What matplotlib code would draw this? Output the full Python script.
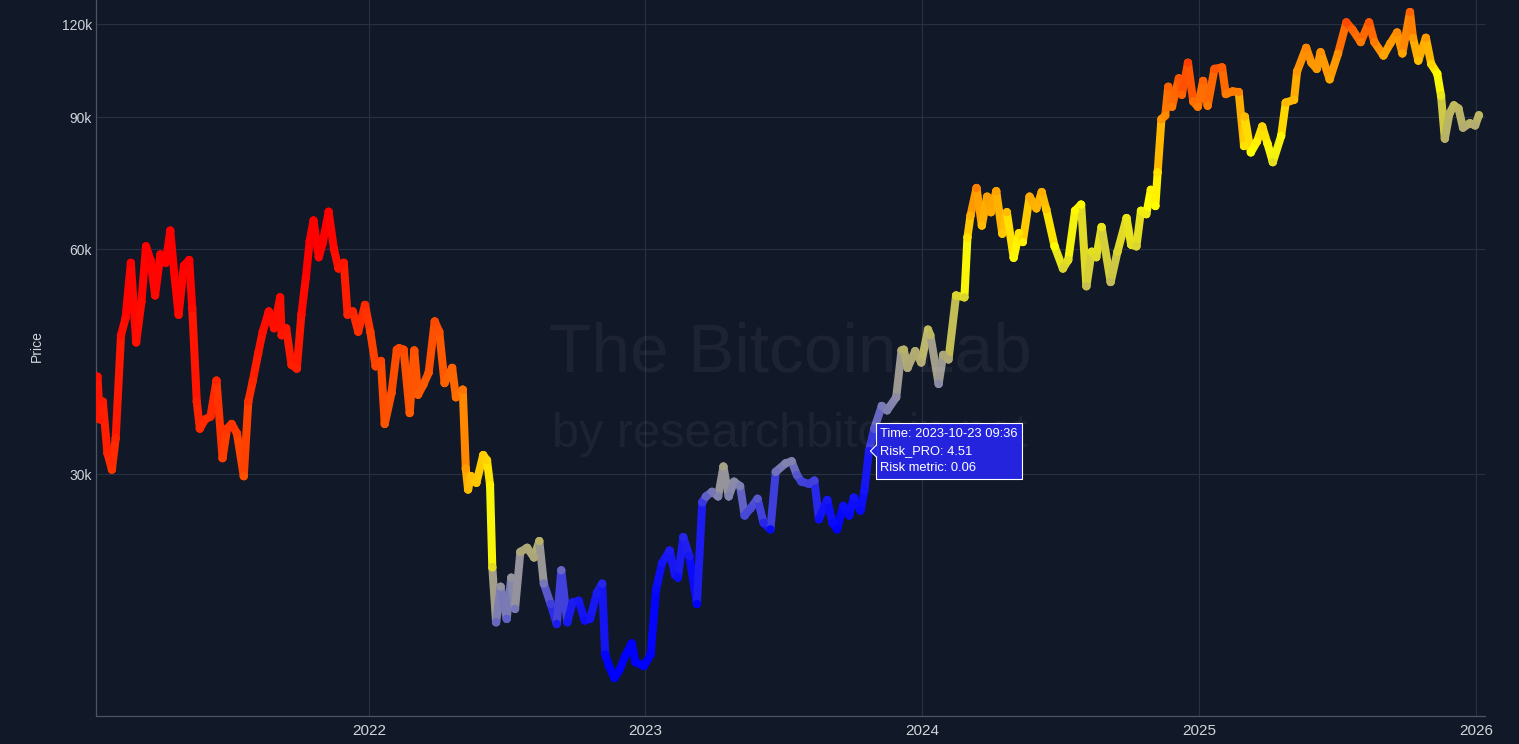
import numpy as np
import pandas as pd
import matplotlib
matplotlib.use("Agg")
import matplotlib.pyplot as plt
import matplotlib.dates as mdates
from matplotlib.collections import LineCollection
from matplotlib.colors import LinearSegmentedColormap
from matplotlib.patches import Polygon, Rectangle
from matplotlib.ticker import FixedLocator, NullLocator
from matplotlib.transforms import IdentityTransform

# price in k USD, risk metric 0..1
dates_21 = ["2021-01-08", "2021-01-11", "2021-01-15", "2021-01-21", "2021-01-27", "2021-02-01", "2021-02-08",
            "2021-02-14", "2021-02-21", "2021-02-28", "2021-03-07", "2021-03-13", "2021-03-19", "2021-03-25",
            "2021-04-01", "2021-04-08", "2021-04-14", "2021-04-19", "2021-04-25", "2021-05-02", "2021-05-09",
            "2021-05-13", "2021-05-19", "2021-05-23", "2021-05-30", "2021-06-06", "2021-06-14", "2021-06-22",
            "2021-06-28", "2021-07-04", "2021-07-11", "2021-07-20", "2021-07-26", "2021-08-01", "2021-08-08",
            "2021-08-14", "2021-08-22", "2021-08-29", "2021-09-06", "2021-09-08", "2021-09-14", "2021-09-21",
            "2021-09-28", "2021-10-04", "2021-10-10", "2021-10-15", "2021-10-20", "2021-10-27", "2021-11-01",
            "2021-11-09", "2021-11-16", "2021-11-22", "2021-11-29", "2021-12-04", "2021-12-11", "2021-12-18",
            "2021-12-27"]
price_21 = [40.5, 35.5, 37.5, 32.0, 30.4, 33.5, 46.0, 48.5, 57.5, 45.0, 51.0, 60.5, 58.0, 52.0, 59.0, 57.5,
            63.5, 56.0, 49.0, 57.0, 58.0, 50.0, 37.5, 34.5, 35.5, 35.8, 40.0, 31.5, 34.5, 35.0, 34.0, 29.8,
            37.5, 40.0, 43.5, 46.5, 49.5, 47.0, 51.7, 46.0, 47.0, 42.0, 41.5, 49.0, 55.0, 61.5, 65.5, 58.5,
            61.0, 67.3, 60.0, 56.5, 57.5, 49.0, 49.5, 46.5, 50.5]
risk_21 = [0.97, 0.95, 0.95, 0.93, 0.91, 0.93, 0.97, 0.98, 1.0, 0.97, 0.98, 1.0, 1.0, 0.98, 1.0, 1.0, 1.0,
           1.0, 0.98, 1.0, 1.0, 0.98, 0.94, 0.92, 0.92, 0.92, 0.93, 0.88, 0.9, 0.9, 0.89, 0.85, 0.9, 0.93,
           0.95, 0.97, 0.98, 0.97, 0.98, 0.96, 0.96, 0.94, 0.94, 0.97, 0.99, 1.0, 1.0, 0.99, 1.0, 1.0, 0.98,
           0.96, 0.96, 0.93, 0.93, 0.91, 0.92]

dates_22 = ["2022-01-03", "2022-01-10", "2022-01-17", "2022-01-22", "2022-01-31", "2022-02-07", "2022-02-10",
            "2022-02-16", "2022-02-24", "2022-03-02", "2022-03-07", "2022-03-14", "2022-03-21", "2022-03-29",
            "2022-04-04", "2022-04-11", "2022-04-21", "2022-04-26", "2022-05-05", "2022-05-09", "2022-05-12",
            "2022-05-16", "2022-05-23", "2022-06-01", "2022-06-06", "2022-06-10", "2022-06-13", "2022-06-18",
            "2022-06-24", "2022-07-02", "2022-07-08", "2022-07-13", "2022-07-20", "2022-07-29", "2022-08-07",
            "2022-08-14", "2022-08-20", "2022-08-29", "2022-09-06", "2022-09-12", "2022-09-20", "2022-09-27",
            "2022-10-05", "2022-10-13", "2022-10-20", "2022-10-29", "2022-11-05", "2022-11-09", "2022-11-14",
            "2022-11-21", "2022-11-28", "2022-12-05", "2022-12-14", "2022-12-19", "2022-12-30"]
price_22 = [46.5, 41.8, 42.5, 35.0, 38.5, 44.0, 44.2, 44.0, 36.2, 43.9, 38.3, 39.5, 41.0, 48.0, 46.5, 39.7,
            41.6, 38.0, 38.9, 30.5, 28.6, 29.8, 29.2, 31.8, 31.3, 29.0, 22.5, 19.0, 21.2, 19.2, 21.8, 19.8,
            23.6, 23.9, 23.2, 24.4, 21.4, 20.1, 18.9, 22.3, 19.0, 20.2, 20.3, 19.1, 19.2, 20.8, 21.4, 17.2,
            16.6, 16.0, 16.4, 17.1, 17.8, 16.8, 16.6]
risk_22 = [0.88, 0.87, 0.87, 0.84, 0.85, 0.86, 0.86, 0.86, 0.83, 0.85, 0.83, 0.83, 0.84, 0.86, 0.85, 0.82,
           0.82, 0.8, 0.79, 0.72, 0.66, 0.65, 0.64, 0.63, 0.62, 0.58, 0.52, 0.22, 0.32, 0.2, 0.33, 0.25, 0.4,
           0.41, 0.4, 0.43, 0.25, 0.13, 0.06, 0.22, 0.05, 0.06, 0.05, 0.03, 0.04, 0.06, 0.08, 0.01, 0.0, 0.0,
           0.0, 0.0, 0.0, 0.0, 0.0]

dates_23 = ["2023-01-08", "2023-01-15", "2023-01-23", "2023-02-02", "2023-02-09", "2023-02-13", "2023-02-20",
            "2023-02-28", "2023-03-10", "2023-03-17", "2023-03-22", "2023-03-30", "2023-04-07", "2023-04-14",
            "2023-04-21", "2023-04-28", "2023-05-06", "2023-05-12", "2023-05-20", "2023-05-29", "2023-06-06",
            "2023-06-15", "2023-06-22", "2023-07-05", "2023-07-13", "2023-07-20", "2023-07-26", "2023-08-05",
            "2023-08-12", "2023-08-18", "2023-08-29", "2023-09-05", "2023-09-11", "2023-09-19", "2023-09-27",
            "2023-10-03", "2023-10-12", "2023-10-17", "2023-10-23", "2023-10-30", "2023-11-09", "2023-11-16",
            "2023-11-28", "2023-12-05", "2023-12-08", "2023-12-13", "2023-12-23", "2023-12-31"]
price_23 = [17.2, 21.0, 22.8, 23.7, 22.0, 21.8, 24.7, 23.3, 20.1, 27.5, 28.0, 28.4, 28.0, 30.7, 28.0, 29.3,
            28.9, 26.4, 27.0, 27.8, 25.8, 25.3, 30.2, 31.0, 31.2, 29.9, 29.3, 29.1, 29.4, 26.1, 27.7, 25.8,
            25.3, 27.2, 26.4, 27.9, 26.8, 28.5, 32.2, 34.5, 37.0, 36.5, 38.0, 43.9, 44.0, 41.6, 43.8, 42.3]
risk_23 = [0.0, 0.02, 0.04, 0.06, 0.04, 0.03, 0.08, 0.05, 0.0, 0.12, 0.2, 0.25, 0.28, 0.38, 0.28, 0.3, 0.27,
           0.15, 0.15, 0.19, 0.08, 0.02, 0.24, 0.28, 0.28, 0.18, 0.14, 0.13, 0.14, 0.03, 0.05, 0.02, 0.0,
           0.03, 0.02, 0.04, 0.02, 0.04, 0.06, 0.18, 0.26, 0.27, 0.3, 0.4, 0.43, 0.4, 0.42, 0.42]

dates_24 = ["2024-01-09", "2024-01-12", "2024-01-23", "2024-01-29", "2024-02-05", "2024-02-15", "2024-02-26",
            "2024-03-01", "2024-03-05", "2024-03-13", "2024-03-20", "2024-03-27", "2024-04-01", "2024-04-08",
            "2024-04-16", "2024-04-22", "2024-05-01", "2024-05-08", "2024-05-13", "2024-05-22", "2024-05-31",
            "2024-06-07", "2024-06-13", "2024-06-24", "2024-07-05", "2024-07-12", "2024-07-21", "2024-07-29",
            "2024-08-05", "2024-08-12", "2024-08-18", "2024-08-25", "2024-09-06", "2024-09-15", "2024-09-27",
            "2024-10-03", "2024-10-10", "2024-10-16", "2024-10-23", "2024-10-29", "2024-11-04", "2024-11-07",
            "2024-11-12", "2024-11-17", "2024-11-21", "2024-11-26", "2024-12-05", "2024-12-09", "2024-12-17",
            "2024-12-24", "2024-12-30"]
price_24 = [46.8, 46.0, 39.6, 43.3, 42.7, 52.0, 51.7, 62.2, 66.5, 72.4, 64.5, 70.5, 67.2, 71.7, 62.9, 67.2,
            58.4, 63.0, 61.3, 70.5, 68.0, 71.5, 67.8, 60.5, 56.5, 58.0, 67.5, 68.8, 53.5, 59.5, 58.5, 64.2,
            54.2, 59.5, 66.0, 60.8, 60.5, 67.5, 66.8, 72.0, 68.5, 76.0, 89.5, 90.5, 98.9, 93.0, 101.5, 96.5,
            106.5, 94.5, 93.0]
risk_24 = [0.45, 0.44, 0.3, 0.4, 0.41, 0.5, 0.5, 0.6, 0.68, 0.77, 0.65, 0.71, 0.69, 0.71, 0.64, 0.66, 0.55,
           0.6, 0.58, 0.69, 0.67, 0.68, 0.64, 0.56, 0.5, 0.52, 0.57, 0.57, 0.46, 0.52, 0.51, 0.53, 0.45, 0.5,
           0.53, 0.52, 0.5, 0.54, 0.54, 0.58, 0.56, 0.6, 0.73, 0.75, 0.82, 0.78, 0.84, 0.82, 0.88, 0.8, 0.78]

dates_25 = ["2025-01-06", "2025-01-12", "2025-01-21", "2025-01-31", "2025-02-05", "2025-02-14", "2025-02-22",
            "2025-03-01", "2025-03-02", "2025-03-10", "2025-03-18", "2025-03-25", "2025-04-01", "2025-04-08",
            "2025-04-19", "2025-04-25", "2025-05-06", "2025-05-10", "2025-05-22", "2025-05-29", "2025-06-05",
            "2025-06-10", "2025-06-22", "2025-07-03", "2025-07-14", "2025-07-22", "2025-08-02", "2025-08-13",
            "2025-08-20", "2025-09-01", "2025-09-10", "2025-09-19", "2025-09-26", "2025-10-06", "2025-10-10",
            "2025-10-17", "2025-10-27", "2025-11-03", "2025-11-11", "2025-11-16", "2025-11-21", "2025-11-27",
            "2025-12-03", "2025-12-09", "2025-12-15", "2025-12-24", "2025-12-31", "2026-01-05"]
price_25 = [100.7, 93.3, 104.5, 105.0, 96.7, 97.5, 97.3, 82.4, 90.2, 80.8, 83.5, 87.5, 83.0, 78.4, 85.0, 94.2,
            95.0, 103.7, 111.5, 106.5, 104.5, 110.0, 101.2, 109.5, 120.6, 118.0, 113.5, 120.6, 113.5, 108.9,
            113.0, 116.9, 109.6, 124.5, 115.0, 107.2, 115.0, 106.1, 103.0, 96.2, 84.3, 91.0, 93.4, 92.5, 87.2,
            88.4, 87.8, 90.6]
risk_25 = [0.82, 0.78, 0.84, 0.83, 0.78, 0.78, 0.77, 0.6, 0.66, 0.56, 0.58, 0.62, 0.58, 0.52, 0.57, 0.66,
           0.66, 0.72, 0.76, 0.73, 0.72, 0.74, 0.7, 0.74, 0.86, 0.82, 0.78, 0.84, 0.78, 0.7, 0.72, 0.75, 0.7,
           0.82, 0.72, 0.65, 0.72, 0.62, 0.57, 0.53, 0.43, 0.44, 0.45, 0.44, 0.42, 0.43, 0.42, 0.44]

y_ticks = [30000, 60000, 90000, 120000]
y_labels = ["30k", "60k", "90k", "120k"]
x_years = ["2022", "2023", "2024", "2025", "2026"]

tip_date = "2023-10-23"
tip_time = "2023-10-23 09:36"
tip_risk_pro = 4.51
tip_risk = 0.06

bg = "#111827"
grid_c = "#283142"
axis_c = "#4b5563"
txt_c = "#d1d5db"

dates = pd.to_datetime(dates_21 + dates_22 + dates_23 + dates_24 + dates_25)
price = np.array(price_21 + price_22 + price_23 + price_24 + price_25) * 1000
risk = np.array(risk_21 + risk_22 + risk_23 + risk_24 + risk_25)
xnum = mdates.date2num(dates)

cmap = LinearSegmentedColormap.from_list("risk", [
    (0.0, "#0000ff"), (0.15, "#4848d8"), (0.30, "#8c8ca8"), (0.42, "#b2ac72"),
    (0.52, "#e4de22"), (0.56, "#ffff00"), (0.65, "#ffc000"), (0.75, "#ff8c00"),
    (0.85, "#ff5000"), (1.0, "#ff0000")])

plt.rcParams["font.family"] = ["Liberation Sans", "DejaVu Sans"]

W, H = 1519, 744
fig = plt.figure(figsize=(W / 100, H / 100), dpi=100, facecolor=bg)
ax = fig.add_axes([96 / W, 28 / H, (1485 - 96) / W, 716 / H])
ax.set_facecolor(bg)

# watermark
fig.text(790 / W, 1 - 372 / H, "The Bitcoin Lab", ha="center", va="baseline",
         fontsize=50, color="white", alpha=0.05, zorder=0)
fig.text(790 / W, 1 - 447 / H, "by researchbitcoin.net", ha="center", va="baseline",
         fontsize=35, color="white", alpha=0.05, zorder=0)

pts = np.column_stack([xnum, price])
segs = np.stack([pts[:-1], pts[1:]], axis=1)
seg_col = cmap((risk[:-1] + risk[1:]) / 2)
lc = LineCollection(segs, colors=seg_col, linewidths=5.8, capstyle="round", joinstyle="round", zorder=3)
ax.add_collection(lc)
ax.scatter(xnum, price, c=risk, cmap=cmap, vmin=0, vmax=1, s=36, linewidths=0, zorder=4)

ax.set_yscale("log")
ax.set_ylim(14235, 129210)
ax.yaxis.set_major_locator(FixedLocator(y_ticks))
ax.yaxis.set_minor_locator(NullLocator())
ax.set_yticklabels(y_labels)

ax.set_xlim(pd.Timestamp("2021-01-06"), pd.Timestamp("2026-01-13"))
ax.set_xticks(mdates.date2num(pd.to_datetime([y + "-01-01" for y in x_years])))
ax.set_xticklabels(x_years)

ax.grid(True, color=grid_c, linewidth=0.8, zorder=1)
ax.set_axisbelow(True)
for s in ["top", "right"]:
    ax.spines[s].set_visible(False)
for s in ["left", "bottom"]:
    ax.spines[s].set_color(axis_c)
    ax.spines[s].set_linewidth(0.9)
ax.tick_params(axis="x", length=0, pad=6, labelsize=11, labelcolor=txt_c)
ax.tick_params(axis="y", length=0, pad=3, labelsize=10, labelcolor=txt_c)
ax.set_ylabel("Price", color=txt_c, fontsize=10)
ax.yaxis.set_label_coords(-0.0375, (716 - 346) / 716)

# hover tooltip
i = list(dates.strftime("%Y-%m-%d")).index(tip_date)
px, py = ax.transData.transform((xnum[i], price[i]))
box_c = "#2424dc"
bx, bw, bh = px + 7.5, 146, 56
fig.add_artist(Rectangle((bx, py - bh / 2), bw, bh, transform=IdentityTransform(),
                         facecolor=box_c, edgecolor="white", linewidth=0.8, zorder=10))
fig.add_artist(Polygon([(px + 1.5, py), (bx + 0.6, py + 6), (bx + 0.6, py - 6)], closed=True,
                       transform=IdentityTransform(), facecolor=box_c, edgecolor="none", zorder=11))
fig.add_artist(matplotlib.lines.Line2D([bx, px + 1.5, bx], [py + 6, py, py - 6], transform=IdentityTransform(),
                                       color="white", linewidth=0.8, zorder=12))
lines = ["Time: " + tip_time, "Risk_PRO: %.2f" % tip_risk_pro, "Risk metric: %.2f" % tip_risk]
for k, t in enumerate(lines):
    fig.text(bx + 3.5, py + 17 - 17 * k, t, transform=IdentityTransform(), ha="left", va="center",
             fontsize=9.3, color="white", zorder=13)

fig.savefig("out.png", dpi=100, facecolor=bg)
